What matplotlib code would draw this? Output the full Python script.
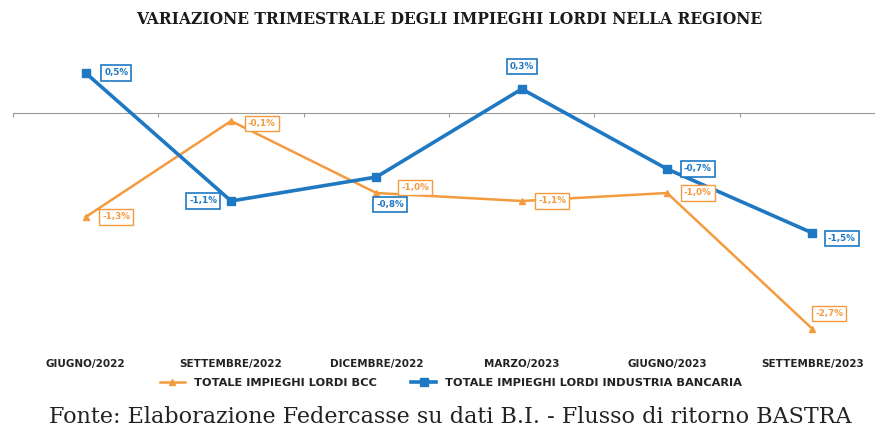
import matplotlib
matplotlib.use("Agg")
import matplotlib.pyplot as plt

categorie = ["GIUGNO/2022", "SETTEMBRE/2022", "DICEMBRE/2022",
             "MARZO/2023", "GIUGNO/2023", "SETTEMBRE/2023"]
bcc = [-1.3, -0.1, -1.0, -1.1, -1.0, -2.7]
industria = [0.5, -1.1, -0.8, 0.3, -0.7, -1.5]

nome_bcc = "TOTALE IMPIEGHI LORDI BCC"
nome_ind = "TOTALE IMPIEGHI LORDI INDUSTRIA BANCARIA"
titolo = "VARIAZIONE TRIMESTRALE DEGLI IMPIEGHI LORDI NELLA REGIONE"
fonte = "Fonte: Elaborazione Federcasse su dati B.I. - Flusso di ritorno BASTRA"

ARANCIO = "#F49B3F"
BLU = "#1E78C2"
NARROW = ["Liberation Sans Narrow", "DejaVu Sans"]

# spostamenti delle etichette (in punti)
off_bcc = [(22, 0), (22, -2), (28, 4), (22, 0), (22, 0), (12, 11)]
off_ind = [(22, 0), (-20, 0), (10, -20), (0, 16), (22, 0), (21, -4)]


def fmt(v):
    return ("%.1f%%" % v).replace(".", ",")


fig = plt.figure(figsize=(8.75, 4.34), dpi=100)
W, H = 875, 434
top_px, bot_px = 45, 340
ax = fig.add_axes([13 / W, 1 - bot_px / H, (W - 13) / W, (bot_px - top_px) / H])

x = list(range(len(categorie)))
ax.plot(x, bcc, color=ARANCIO, lw=1.8, marker="^", ms=5, label=nome_bcc, zorder=3)
ax.plot(x, industria, color=BLU, lw=2.6, marker="s", ms=6, label=nome_ind, zorder=4)

for i, v in enumerate(bcc):
    ax.annotate(fmt(v), (i, v), xytext=off_bcc[i], textcoords="offset points",
                ha="center", va="center", fontsize=6.3, color=ARANCIO,
                family=NARROW, fontweight="bold", zorder=5,
                bbox=dict(boxstyle="square,pad=0.35", fc="white", ec=ARANCIO, lw=1))
for i, v in enumerate(industria):
    ax.annotate(fmt(v), (i, v), xytext=off_ind[i], textcoords="offset points",
                ha="center", va="center", fontsize=6.3, color=BLU,
                family=NARROW, fontweight="bold", zorder=6,
                bbox=dict(boxstyle="square,pad=0.35", fc="white", ec=BLU, lw=1.2))

ppu = 80.0
ax.set_ylim(-(bot_px - 113) / ppu, (113 - top_px) / ppu)
ax.set_xlim(-0.5, 5.43)
ax.set_yticks([])
for s in ["top", "right", "left"]:
    ax.spines[s].set_visible(False)
ax.spines["bottom"].set_position(("data", 0))
ax.spines["bottom"].set_color("#9a9a9a")
ax.set_xticks([i - 0.5 for i in range(len(categorie))])
ax.set_xticklabels([])
ax.tick_params(axis="x", length=3, color="#9a9a9a", direction="out")

sec = ax.secondary_xaxis(-0.065)
sec.set_xticks(x, categorie)
sec.spines["bottom"].set_visible(False)
sec.tick_params(length=0, pad=0)
for t in sec.get_xticklabels():
    t.set_family(NARROW)
    t.set_fontweight("bold")
    t.set_fontsize(7.5)
    t.set_color("#222222")

leg = fig.legend(loc="center", bbox_to_anchor=(451 / W, 1 - 383 / H), ncol=2,
                 frameon=False, handlelength=2.2, columnspacing=3,
                 prop=dict(family=NARROW, weight="bold", size=8.2))
for t in leg.get_texts():
    t.set_color("#222222")

fig.text(449 / W, 1 - 20 / H, titolo, ha="center", va="center",
         family="DejaVu Serif", fontweight="bold", fontsize=11.2, color="#1a1a1a")
fig.text(450 / W, 1 - 417 / H, fonte, ha="center", va="center",
         family="DejaVu Serif", fontsize=16, color="#222222")

fig.savefig("out.png", dpi=100)
